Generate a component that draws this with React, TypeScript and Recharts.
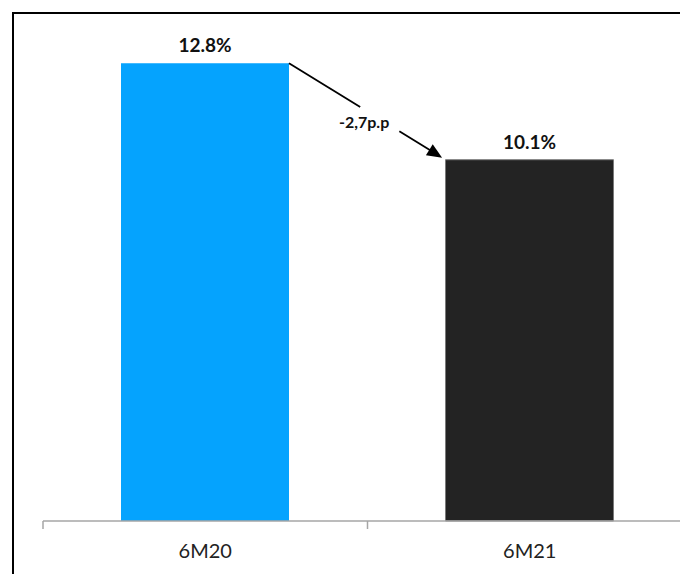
import { BarChart, Bar, XAxis, YAxis, Cell, LabelList, Rectangle } from "recharts";

const periods = ["6M20", "6M21"];
const shares = [12.8, 10.1];
const barColors = ["#05A3FE", "#232323"];

const CHART_W = 720;
const CHART_H = 580;
const MARGIN = { top: 42, right: 42, bottom: 33, left: 29 };
const CAT_W = (CHART_W - MARGIN.left - MARGIN.right) / periods.length;

const data = periods.map((p, i) => ({ period: p, value: shares[i] }));

// arrow from the top-right corner of the first bar to the top-left of the second
function ChangeArrow({ x, y, width, height }: any) {
  const sx = x + width;
  const sy = y;
  const ex = x + CAT_W;
  const ey = y + (height * (shares[0] - shares[1])) / shares[0];
  const dx = ex - sx;
  const dy = ey - sy;
  const len = Math.hypot(dx, dy);
  const ux = dx / len;
  const uy = dy / len;
  const tipX = ex - ux * 4;
  const tipY = ey - uy * 4;
  const headLen = 15;
  const headHalf = 6.5;
  const bx = tipX - ux * headLen;
  const by = tipY - uy * headLen;
  const diff = `${(shares[1] - shares[0]).toFixed(1).replace(".", ",")}p.p`;
  return (
    <g>
      <line x1={sx} y1={sy} x2={sx + dx * 0.455} y2={sy + dy * 0.455} stroke="#000" strokeWidth={1.8} />
      <line x1={sx + dx * 0.705} y1={sy + dy * 0.705} x2={bx + ux * 2} y2={by + uy * 2} stroke="#000" strokeWidth={1.8} />
      <polygon
        points={`${tipX},${tipY} ${bx - uy * headHalf},${by + ux * headHalf} ${bx + uy * headHalf},${by - ux * headHalf}`}
        fill="#000"
      />
      <text
        x={sx + dx * 0.48}
        y={sy + dy * 0.48 + 18}
        textAnchor="middle"
        fontSize={16}
        fontWeight="bold"
        fill="#111"
      >
        {diff}
      </text>
    </g>
  );
}

function BarShape(props: any) {
  const { x, y, width, height, index } = props;
  return (
    <g>
      <Rectangle
        x={x}
        y={y}
        width={width}
        height={height}
        fill={barColors[index]}
        stroke={index === 1 ? "#7a7a7a" : "none"}
        strokeWidth={1}
      />
      {index === 0 && <ChangeArrow x={x} y={y} width={width} height={height} />}
    </g>
  );
}

function PeriodTick({ x, y, payload }: any) {
  const left = x - CAT_W / 2;
  return (
    <g>
      <line x1={left} y1={y} x2={left} y2={y + 8} stroke="#a6a6a6" strokeWidth={1.5} />
      <text x={x} y={y + 36.5} textAnchor="middle" fontSize={20} fill="#222">
        {payload.value}
      </text>
    </g>
  );
}

export default function App() {
  return (
    <div
      style={{
        position: "fixed",
        left: 0,
        top: 0,
        width: 680,
        height: 574,
        overflow: "hidden",
        background: "#fff",
        fontFamily: "Lato, sans-serif",
      }}
    >
      <div
        style={{
          position: "absolute",
          left: 12,
          top: 12,
          width: CHART_W,
          height: CHART_H,
          border: "2px solid #000",
        }}
      >
        <BarChart width={CHART_W} height={CHART_H} data={data} margin={MARGIN}>
          <XAxis
            dataKey="period"
            height={40}
            tickSize={0}
            tickMargin={0}
            tickLine={false}
            axisLine={{ stroke: "#a6a6a6", strokeWidth: 1.5 }}
            tick={<PeriodTick />}
            interval={0}
          />
          <YAxis hide domain={[0, 13]} />
          <Bar dataKey="value" barSize={168} shape={<BarShape />} isAnimationActive={false}>
            {data.map((d, i) => (
              <Cell key={d.period} fill={barColors[i]} />
            ))}
            <LabelList
              dataKey="value"
              position="top"
              offset={11}
              formatter={(v: any) => `${Number(v).toFixed(1)}%`}
              style={{ fontSize: 19, fontWeight: "bold", fill: "#111", fontFamily: "Lato, sans-serif" }}
            />
          </Bar>
        </BarChart>
      </div>
    </div>
  );
}
